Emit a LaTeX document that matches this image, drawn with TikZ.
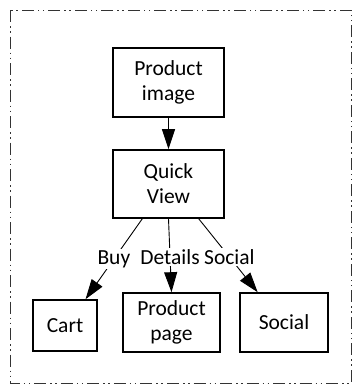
\documentclass[tikz,border=0pt]{standalone}
\usepackage{fontspec}
\setmainfont{Carlito}
\usetikzlibrary{arrows.meta}
\begin{document}
\begin{tikzpicture}[x=1pt,y=-1pt,
  box/.style={draw=black, line width=1.6pt, rectangle, align=center, inner sep=0pt,
              font=\fontsize{21.5}{25}\selectfont},
  conn/.style={draw=black, line width=0.9pt, -{Triangle[length=20pt,width=13pt]}},
  lbl/.style={fill=white, inner sep=1pt, font=\fontsize{21.5}{25}\selectfont},
  frame/.style={draw=black!80, line width=0.9pt,
    dash pattern=on 12pt off 4pt on 1.5pt off 3.5pt on 1.5pt off 4pt}]
\useasboundingbox (0,0) rectangle (352,384);
\draw[frame] (10,10) rectangle (351,383);
\node[box, minimum width=111pt, minimum height=69pt] (pi) at (168.5,82.5) {Product\\image};
\node[box, minimum width=111pt, minimum height=68pt] (qv) at (168.5,184) {Quick\\View};
\node[box, minimum width=64pt, minimum height=51pt] (cart) at (65,325.5) {Cart};
\node[box, minimum width=97pt, minimum height=59pt] (pp) at (171.5,322.5) {Product\\page};
\node[box, minimum width=88pt, minimum height=59pt] (soc) at (284,322.5) {Social};
\draw[conn] (pi.south) -- (qv.north);
\draw[conn] (qv.233) -- node[lbl, pos=0.5] {Buy} (cart.52);
\draw[conn] (qv.south) -- node[lbl, pos=0.52] {Details} (pp.north);
\draw[conn] (qv.311) -- node[lbl, pos=0.52] {Social} (soc.131.4);
\end{tikzpicture}
\end{document}
